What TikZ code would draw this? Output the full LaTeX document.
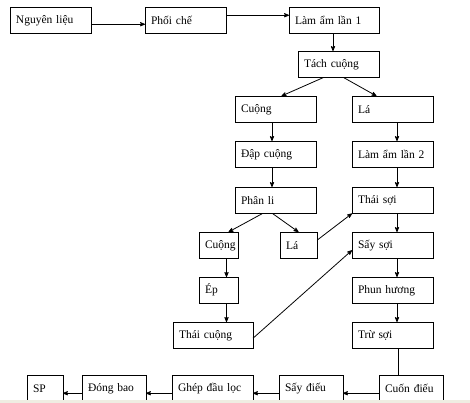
\documentclass[tikz,border=0pt]{standalone}
\usepackage{fontspec}
\setmainfont{Liberation Serif}
\usepackage{tikz}
\usetikzlibrary{arrows}
\definecolor{bandcol}{RGB}{239,237,226}

\begin{document}
\begin{tikzpicture}[x=1pt,y=-1pt,line width=0.8pt,font=\fontsize{11.5}{13}\selectfont]
    \tikzstyle{e} = [draw, -stealth']
    \tikzstyle{box} = [draw, anchor=north west, outer sep=0pt, inner xsep=6pt, text width=#1, minimum height=26.5pt, align=left]
    \useasboundingbox (0,0) rectangle (470,403);
    % top row
    \node[box=69pt] (ngl) at (10,7) {Nguyên liệu};
    \node[box=69pt] (phc) at (145,7) {Phối chế};
    \node[box=78pt] (la1) at (289,7) {Làm ẩm lần 1};
    \node[box=69pt] (tac) at (298,51) {Tách cuộng};
    % left branch
    \node[box=69pt] (cu1) at (235,96) {Cuộng};
    \node[box=69pt] (dap) at (235,141) {Đập cuộng};
    \node[box=69pt] (phl) at (235,187) {Phân li};
    \node[box=27pt] (cu2) at (199,232) {Cuộng};
    \node[box=25pt] (la3) at (280,232) {Lá};
    \node[box=27pt] (ep) at (199,277) {Ép};
    \node[box=68pt] (thc) at (173,322) {Thái cuộng};
    % right branch
    \node[box=69pt] (la) at (352,96) {Lá};
    \node[box=69pt] (la2) at (352,141) {Làm ẩm lần 2};
    \node[box=69pt] (ths) at (352,187) {Thái sợi};
    \node[box=69pt] (sas) at (352,232) {Sấy sợi};
    \node[box=69pt] (phh) at (352,277) {Phun hương};
    \node[box=69pt] (trs) at (352,322) {Trừ sợi};
    % bottom row
    \node[box=24pt] (sp) at (27,375) {SP};
    \node[box=52pt] (dob) at (82,375) {Đóng bao};
    \node[box=69pt] (ghe) at (172,375) {Ghép đầu lọc};
    \node[box=52pt] (sad) at (279,375) {Sấy điếu};
    \node[box=52pt] (cud) at (379,375) {Cuốn điếu};

    \draw [e] ([yshift=-4pt]ngl.east) -- ([yshift=-4pt]phc.west);
    \draw [e] ([yshift=5pt]phc.east) -- ([yshift=5pt]la1.west);
    \draw [e] ([xshift=-1pt]la1.south) -- ([xshift=-1pt]la1.south |- tac.north);
    \draw [e] ([xshift=-15pt]tac.south) -- ([xshift=6pt]cu1.north);
    \draw [e] ([xshift=5pt]tac.south) -- ([xshift=-16pt]la.north);
    \draw [e] ([xshift=-3.5pt]cu1.south) -- ([xshift=-3.5pt]dap.north);
    \draw [e] ([xshift=-3.5pt]dap.south) -- ([xshift=-3.5pt]phl.north);
    \draw [e] ([xshift=-13pt]phl.south) -- ([xshift=10pt]cu2.north);
    \draw [e] ([xshift=-3pt]phl.south) -- (la3.north);
    \draw [e] ([yshift=5pt]la3.east) -- (ths.south west);
    \draw [e] ([xshift=8pt]cu2.south) -- ([xshift=8pt]cu2.south |- ep.north);
    \draw [e] ([xshift=8pt]ep.south) -- ([xshift=8pt]ep.south |- thc.north);
    \draw [e] ([yshift=-3pt]thc.east) -- ([yshift=-5pt]sas.west);
    \draw [e] ([xshift=4.5pt]la.south) -- ([xshift=4.5pt]la2.north);
    \draw [e] ([xshift=4.5pt]la2.south) -- ([xshift=4.5pt]ths.north);
    \draw [e] ([xshift=4.5pt]ths.south) -- ([xshift=4.5pt]sas.north);
    \draw [e] ([xshift=4.5pt]sas.south) -- ([xshift=4.5pt]phh.north);
    \draw [e] ([xshift=4.5pt]phh.south) -- ([xshift=4.5pt]trs.north);
    \draw ([xshift=5.5pt]trs.south) -- ([xshift=5.5pt]trs.south |- cud.north);
    \draw [e] ([yshift=-5pt]cud.west) -- ([yshift=-5pt]sad.east);
    \draw [e] ([yshift=-5pt]sad.west) -- ([yshift=-5pt]ghe.east);
    \draw [e] ([yshift=-5pt]ghe.west) -- ([yshift=-5pt]dob.east);
    \draw [e] ([yshift=-5pt]dob.west) -- ([yshift=-5pt]sp.east);
    % bottom band
    \fill[bandcol] (0,400) rectangle (470,403);
\end{tikzpicture}
\end{document}
